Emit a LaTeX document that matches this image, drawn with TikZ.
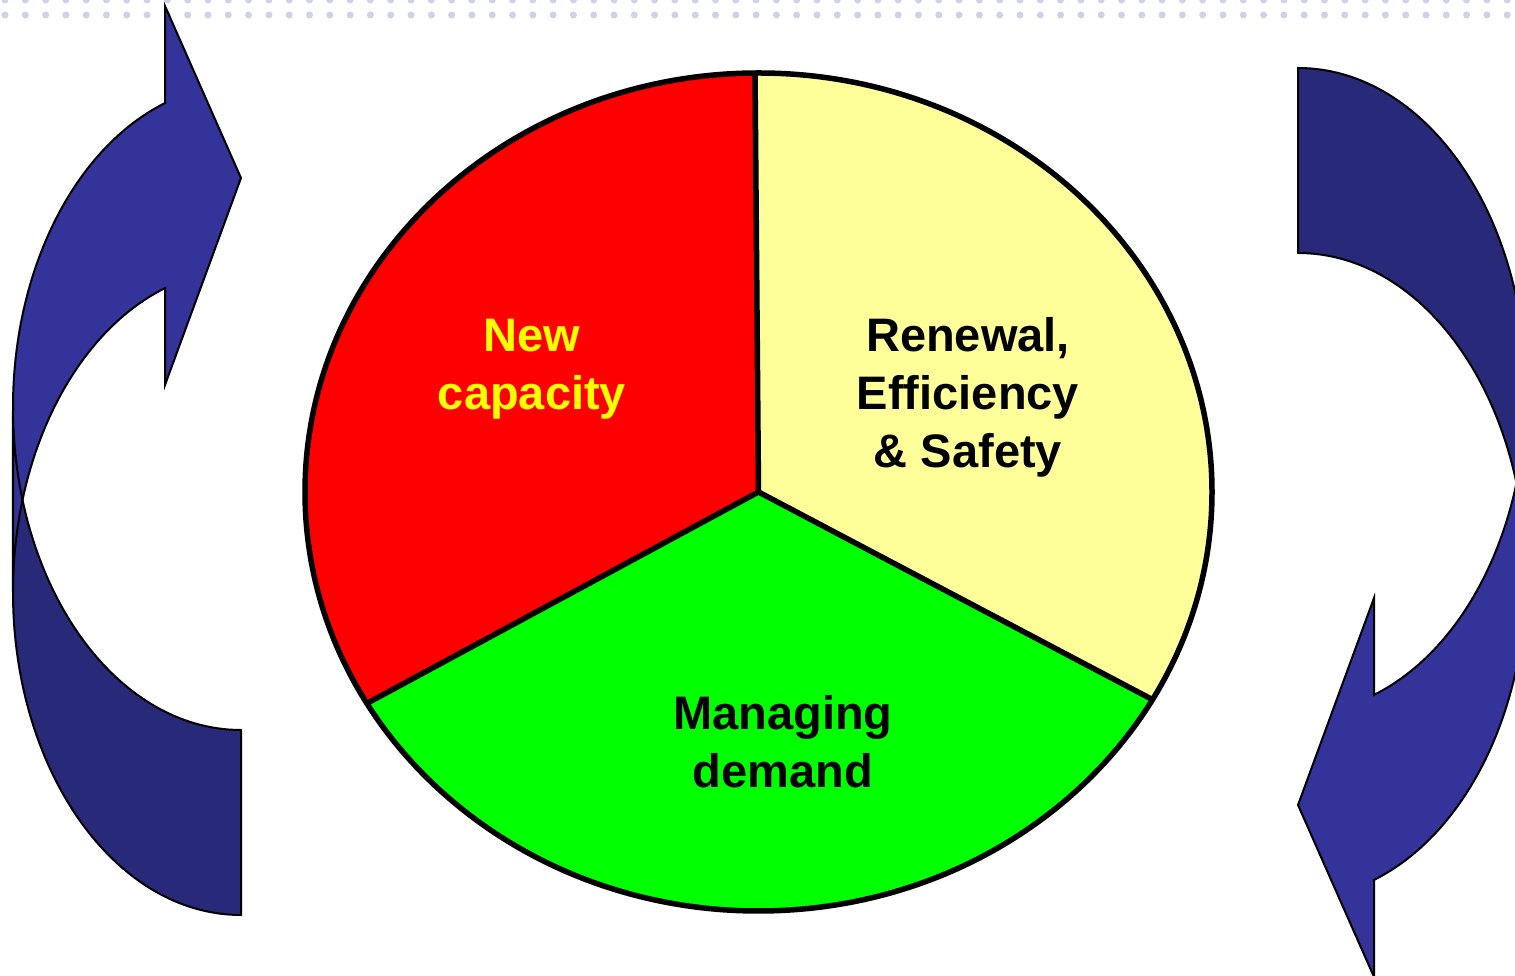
\documentclass[tikz,border=0pt]{standalone}
\usepackage{fontspec}
\setmainfont{Liberation Sans}
\usetikzlibrary{calc}
\definecolor{arrowfront}{RGB}{51,51,153}
\definecolor{arrowback}{RGB}{41,41,122}
\definecolor{pieyellow}{RGB}{255,255,153}
\definecolor{piegreen}{RGB}{0,255,0}
\definecolor{piered}{RGB}{255,0,0}
\definecolor{dotcol}{RGB}{208,208,232}
\definecolor{textyellow}{RGB}{255,255,0}
\begin{document}
\begin{tikzpicture}[x=1pt,y=1pt,
  arrowline/.style={draw=black, line width=2pt, line join=miter},
  pieline/.style={draw=black, line width=5.5pt, line join=round},
  txt/.style={font=\bfseries\fontsize{47}{58}\selectfont, inner sep=0pt, anchor=base},
  ell/.style={x radius=453.5, y radius=419},
  arc2/.style={x radius=228, y radius=322.7}]
\useasboundingbox (0,0) rectangle (1515,976);
\clip (0,0) rectangle (1515,976);
% dotted band at the top
\foreach \i in {0,...,74} {
  \fill[dotcol] (5+20.3*\i, 976) circle (3.5);
  \fill[dotcol] (5+20.3*\i, 961) circle (3.5);
}
% curved arrows (left one, and the same turned round for the right)
\foreach \r in {0,180} {
\begin{scope}[rotate around={\r:(769.5,484.5)}]
  \path[fill=arrowback] (13,383.7) arc[start angle=180, end angle=270, arc2]
     -- (241,246) arc[start angle=270, end angle=180, arc2] -- cycle;
  \path[fill=arrowfront] (13,568.7) arc[start angle=180, end angle=109.47, arc2]
     -- (165,970) -- (241,798) -- (165,591) -- (165,687.9)
     arc[start angle=109.47, end angle=180, arc2] -- cycle;
  \path[arrowline] (13,383.7) arc[start angle=180, end angle=270, arc2]
     -- (241,246) arc[start angle=270, end angle=180, arc2] -- cycle;
  \path[arrowline] (13,568.7) arc[start angle=180, end angle=109.47, arc2]
     -- (165,970) -- (241,798) -- (165,591) -- (165,687.9)
     arc[start angle=109.47, end angle=180, arc2] -- cycle;
\end{scope}
}
% pie
\coordinate (c) at (758.5,484);
\fill[piered] (c) -- ($(c)+(90.44:453.5 and 419)$) arc[start angle=90.44, end angle=210.3, ell] -- cycle;
\fill[pieyellow] (c) -- ($(c)+(-29.7:453.5 and 419)$) arc[start angle=-29.7, end angle=90.44, ell] -- cycle;
\fill[piegreen] (c) -- ($(c)+(210.3:453.5 and 419)$) arc[start angle=210.3, end angle=330.3, ell] -- cycle;
\draw[pieline] (c) ellipse[ell];
\draw[pieline] ($(c)+(90.44:453.5 and 419)$) -- (c) -- ($(c)+(210.3:453.5 and 419)$);
\draw[pieline] (c) -- ($(c)+(-29.7:453.5 and 419)$);
% labels
\node[txt, text=textyellow] (newcap) at (532,624)
  {\begin{tabular}[t]{@{}c@{}}New\\capacity\end{tabular}};
\node[txt] (renew) at (968,624)
  {\begin{tabular}[t]{@{}c@{}}Renewal,\\Efficiency\\\& Safety\end{tabular}};
\node[txt] (manage) at (783,246)
  {\begin{tabular}[t]{@{}c@{}}Managing\\demand\end{tabular}};
\end{tikzpicture}
\end{document}
